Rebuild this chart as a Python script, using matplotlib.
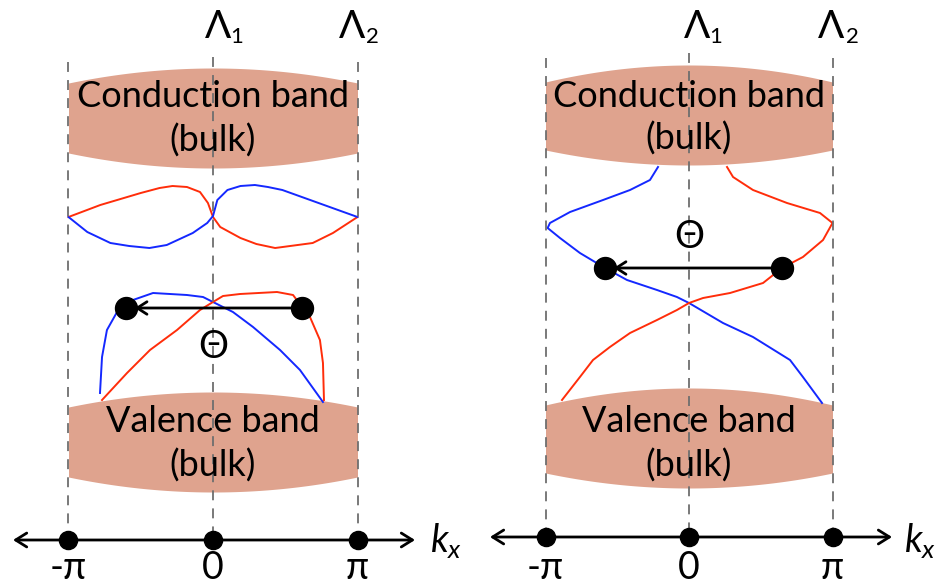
import matplotlib.pyplot as plt
from matplotlib.patches import FancyArrowPatch
import numpy as np

plt.rcParams['font.family'] = ['Lato', 'Noto Sans', 'DejaVu Sans']
plt.rcParams['mathtext.fontset'] = 'custom'
plt.rcParams['mathtext.rm'] = 'Lato'
plt.rcParams['mathtext.it'] = 'Lato:italic'

# k in units of pi, energy in screen rows (larger = lower)
band_color = '#DFA38E'
red = '#FF2D0A'
blue = '#1428FF'

# bulk bands: (top at edge, top at centre, bottom at edge, bottom at centre)
left_cb = (83, 68, 153, 168)
left_vb = (407, 392, 477, 492)
right_cb = (82, 65, 150, 165)
right_vb = (405, 388, 473, 488)

# left panel: surface states
left_up_red_k = [-1.0, -0.78, -0.5, -0.37, -0.28, -0.18, -0.09, -0.035, 0.0, 0.05, 0.19, 0.3,
                 0.43, 0.69, 0.83, 1.0]
left_up_red_E = [217, 205, 193, 188, 186, 187, 192, 203, 217, 227, 238, 244, 248, 243, 233, 217]
left_up_blue_k = [-1.0, -0.87, -0.71, -0.58, -0.44, -0.32, -0.14, -0.04, 0.0, 0.03, 0.10, 0.19,
                  0.29, 0.38, 0.48, 1.0]
left_up_blue_E = [217, 232, 243, 246, 248, 245, 233, 223, 216, 200, 190, 186, 185, 187, 190, 217]

left_lo_blue_k = [-0.782, -0.768, -0.734, -0.664, -0.602, -0.554, -0.415, -0.18, -0.069, 0.0,
                  0.138, 0.277, 0.464, 0.602, 0.761]
left_lo_blue_E = [393, 357, 330, 312, 306, 300, 293, 295, 297, 302, 312, 327, 350, 370, 402]
left_lo_red_k = [-0.768, -0.595, -0.436, -0.249, -0.09, 0.0, 0.069, 0.187, 0.443, 0.554,
                 0.616, 0.671, 0.74, 0.761, 0.768]
left_lo_red_E = [400, 373, 350, 330, 310, 302, 296, 294, 292, 295, 307, 317, 340, 363, 400]
left_dots_k = [-0.602, 0.616]
left_dots_E = 308

# right panel: surface states
right_blue_k = [-0.216, -0.272, -0.411, -0.599, -0.829, -0.969, -0.985, -0.899, -0.76, -0.585,
                -0.432, -0.223, -0.084, 0.0, 0.237, 0.446, 0.704, 0.794, 0.927]
right_blue_E = [167, 180, 190, 200, 212, 223, 228, 238, 253, 268, 280, 290, 297, 303, 323, 337,
                360, 377, 403]
right_red_k = [0.265, 0.307, 0.446, 0.683, 0.913, 1.0, 0.934, 0.794, 0.648, 0.516, 0.286, 0.098,
               0.0, -0.084, -0.223, -0.411, -0.551, -0.669, -0.76, -0.885]
right_red_E = [167, 177, 190, 203, 213, 223, 240, 257, 268, 283, 293, 298, 303, 310, 320, 333,
               347, 360, 377, 400]
right_dots_k = [-0.585, 0.648]
right_dots_E = 268

kticks = [-1, 0, 1]
kticklabels = ['-π', '0', 'π']

fig = plt.figure(figsize=(9.39, 5.87), dpi=100)


def band(ax, b, top_label, bottom_label, base1, base2):
    k = np.linspace(-1, 1, 200)
    top = b[1] + (b[0] - b[1]) * k**2
    bot = b[3] + (b[2] - b[3]) * k**2
    ax.fill_between(k, top, bot, color=band_color, lw=0, zorder=1)
    ax.text(0, base1, top_label, ha='center', va='baseline', fontsize=26, zorder=4)
    ax.text(0, base2, bottom_label, ha='center', va='baseline', fontsize=26, zorder=4)


def panel(rect, xlim, axis_y, arrow_x, dash_top, lam, kx_x):
    ax = fig.add_axes(rect)
    ax.set_xlim(*xlim)
    ax.set_ylim(587, 0)
    ax.axis('off')
    for k, t in zip(kticks, dash_top):
        ax.plot([k, k], [t, axis_y], color='#6e6e6e', lw=1.3, ls=(0, (5.5, 4.5)), zorder=3)
    ax.add_patch(FancyArrowPatch((arrow_x[0], axis_y), (arrow_x[1], axis_y),
                                 arrowstyle='<->,head_length=8,head_width=5',
                                 color='black', lw=2, zorder=5, shrinkA=0, shrinkB=0))
    ax.scatter(kticks, [axis_y] * 3, s=170, color='black', zorder=6)
    for k, lab in zip(kticks, kticklabels):
        ax.text(k, 579, lab, ha='center', va='baseline', fontsize=27)
    ax.text(kx_x, 552, '$k_x$', ha='left', va='baseline', fontsize=27)
    for (x, y, s, fs) in lam:
        ax.text(x, y, s, ha='center', va='baseline', fontsize=fs)
    return ax


def theta(ax, ks, E, label_y):
    ax.add_patch(FancyArrowPatch((ks[1], E), (ks[0] + 0.06, E),
                                 arrowstyle='->,head_length=7,head_width=4.5',
                                 color='black', lw=2, zorder=5, shrinkA=0, shrinkB=0))
    ax.scatter(ks, [E, E], s=250, color='black', zorder=6)
    ax.text(0, label_y, 'Θ', ha='center', va='baseline', fontsize=27)


# left panel
axl = panel([0, 0, 470 / 939, 1], (-213 / 144.5, 257 / 144.5), 540, (-1.384, 1.398),
            [62, 57, 62],
            [(0.035, 38, 'Λ', 28), (0.166, 43, '1', 16), (0.962, 38, 'Λ', 28), (1.10, 43, '2', 16)],
            1.50)
band(axl, left_cb, 'Conduction band', '(bulk)', 107, 152)
band(axl, left_vb, 'Valence band', '(bulk)', 432, 477)
axl.plot(left_up_red_k, left_up_red_E, color=red, lw=1.4, zorder=2)
axl.plot(left_up_blue_k, left_up_blue_E, color=blue, lw=1.4, zorder=2)
axl.plot(left_lo_blue_k, left_lo_blue_E, color=blue, lw=1.4, zorder=2)
axl.plot(left_lo_red_k, left_lo_red_E, color=red, lw=1.4, zorder=2)
theta(axl, left_dots_k, left_dots_E, 358)

# right panel
axr = panel([470 / 939, 0, 469 / 939, 1], (-219 / 143.5, 250 / 143.5), 537, (-1.387, 1.415),
            [58, 53, 58],
            [(0.056, 38, 'Λ', 28), (0.188, 43, '1', 16), (0.99, 38, 'Λ', 28), (1.136, 43, '2', 16)],
            1.50)
band(axr, right_cb, 'Conduction band', '(bulk)', 107, 150)
band(axr, right_vb, 'Valence band', '(bulk)', 432, 477)
axr.plot(right_blue_k, right_blue_E, color=blue, lw=1.4, zorder=2)
axr.plot(right_red_k, right_red_E, color=red, lw=1.4, zorder=2)
theta(axr, right_dots_k, right_dots_E, 248)

fig.savefig('out.png', dpi=100)
